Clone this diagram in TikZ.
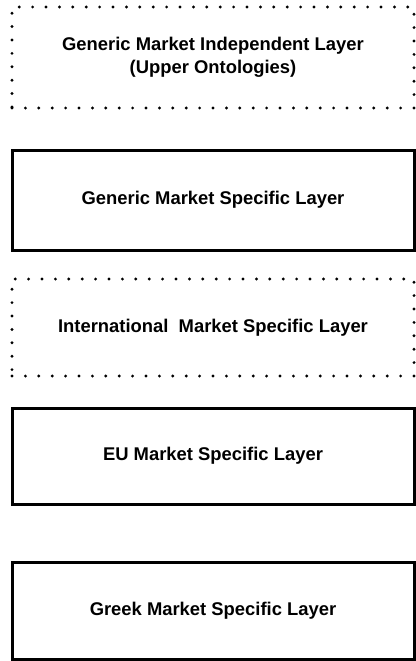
\documentclass[tikz,border=0pt]{standalone}
\usepackage{fontspec}
\setmainfont{Liberation Sans}
\begin{document}
\begin{tikzpicture}[x=1pt,y=-1pt,
  layer/.style={draw, line width=3pt, minimum width=402pt, align=center,
    inner sep=0pt, font=\bfseries\fontsize{18.4}{23}\selectfont},
  dottedlayer/.style={layer, line width=3.2pt, line cap=round,
    dash pattern=on 0pt off 13.4pt}]
  %%%%% START %%%%%
  \useasboundingbox (0,0) rectangle (415,661);

  \node[dottedlayer, minimum height=101pt] (independent) at (213,57.5)
    {Generic Market Independent Layer\\(Upper Ontologies)};
  \node[layer, minimum height=100pt] (generic) at (213,200)
    {Generic Market Specific Layer};
  \node[dottedlayer, minimum height=97pt] (international) at (213,327.5)
    {International\ \ Market Specific Layer};
  \node[layer, minimum height=96pt] (eu) at (213,456)
    {EU Market Specific Layer};
  \node[layer, minimum height=97pt] (greek) at (213,610.5)
    {Greek Market Specific Layer};
  %%%%% END %%%%%
\end{tikzpicture}
\end{document}
